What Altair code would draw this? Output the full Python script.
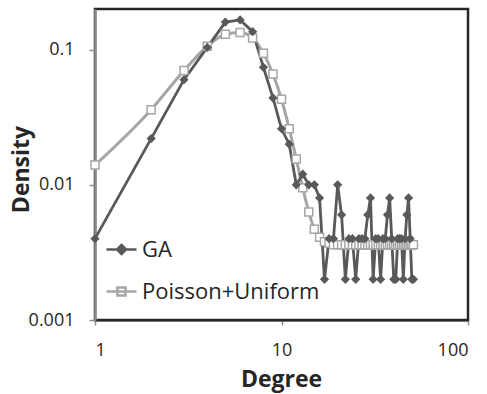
import altair as alt
import pandas as pd

# Degree distribution: GA sample vs. fitted Poisson+Uniform mixture
degree = list(range(1, 52))

ga_density = [
    0.004, 0.022, 0.060, 0.104, 0.160, 0.166, 0.136, 0.074, 0.044, 0.026,
    0.020, 0.010, 0.012, 0.010, 0.010, 0.008, 0.002, 0.004, 0.004, 0.010,
    0.006, 0.002, 0.004, 0.004, 0.002, 0.004, 0.004, 0.004, 0.006, 0.008,
    0.002, 0.004, 0.004, 0.002, 0.004, 0.004, 0.006, 0.008, 0.004, 0.002,
    0.002, 0.004, 0.004, 0.004, 0.002, 0.004, 0.006, 0.008, 0.004, 0.002,
    0.002,
]

pu_density = [
    0.0140, 0.0360, 0.0700, 0.1060, 0.1300, 0.1340, 0.1220, 0.0940, 0.0660, 0.0430,
    0.0260, 0.0155, 0.0095, 0.0063, 0.0047, 0.0041, 0.0038, 0.0037, 0.0036, 0.0036,
    0.0036, 0.0036, 0.0036, 0.0036, 0.0036, 0.0036, 0.0036, 0.0036, 0.0036, 0.0036,
    0.0036, 0.0036, 0.0036, 0.0036, 0.0036, 0.0036, 0.0036, 0.0036, 0.0036, 0.0036,
    0.0036, 0.0036, 0.0036, 0.0036, 0.0036, 0.0036, 0.0036, 0.0036, 0.0036, 0.0036,
    0.0036,
]

series_names = ["GA", "Poisson+Uniform"]
x_ticks = [1, 10, 100]
y_ticks = [0.001, 0.01, 0.1]

df = pd.concat([
    pd.DataFrame({"Degree": degree, "Density": ga_density, "series": series_names[0]}),
    pd.DataFrame({"Degree": degree, "Density": pu_density, "series": series_names[1]}),
], ignore_index=True)

FONT = "Open Sans"
TEXT = "#262626"
DARK = "#595959"
LIGHT = "#a6a6a6"
AXIS_GRAY = "#8c8c8c"

x_enc = alt.X(
    "Degree:Q",
    scale=alt.Scale(type="log", domain=[1, 100], nice=False),
    axis=alt.Axis(
        values=x_ticks, format="~g", grid=False, title="Degree",
        domainColor="#262626", domainWidth=2,
        tickColor=AXIS_GRAY, tickSize=5, tickWidth=1.5,
        labelFont=FONT, labelFontSize=18, labelColor=TEXT,
        labelBaseline="alphabetic", labelPadding=30,
        titleFont=FONT, titleFontSize=23, titleFontWeight="bold", titleColor=TEXT,
        titleBaseline="alphabetic", titleX=186, titleY=66,
    ),
)
y_enc = alt.Y(
    "Density:Q",
    scale=alt.Scale(type="log", domain=[0.001, 0.2], nice=False),
    axis=alt.Axis(
        values=y_ticks, format="~g", grid=False, title="Density",
        domainColor=AXIS_GRAY, domainWidth=2.5,
        tickColor=AXIS_GRAY, tickSize=6, tickWidth=1.5,
        labelFont=FONT, labelFontSize=18, labelColor=TEXT, labelPadding=15,
        titleFont=FONT, titleFontSize=23, titleFontWeight="bold", titleColor=TEXT,
        titleBaseline="alphabetic", titleX=-67, titleY=160,
    ),
)

base = alt.Chart(df).encode(x=x_enc, y=y_enc)
ga = base.transform_filter(alt.datum.series == series_names[0])
pu = base.transform_filter(alt.datum.series == series_names[1])

pu_line = pu.mark_line(color=LIGHT, strokeWidth=3, interpolate="monotone")
pu_pts = pu.mark_point(shape="square", size=64, filled=True, fill="white",
                       stroke=LIGHT, strokeWidth=1.5, opacity=1)
ga_line = ga.mark_line(color=DARK, strokeWidth=2.8)
ga_pts = ga.mark_point(shape="diamond", size=85, filled=True, color=DARK, opacity=1)

# legend key: line stub with the series marker on it
ga_key = "M-1,0H1M0,-0.3L0.3,0L0,0.3L-0.3,0Z"
pu_key = "M-1,0H1M-0.27,-0.27H0.27V0.27H-0.27Z"
legend = alt.Legend(
    title=None, orient="none", legendX=10, legendY=224, padding=0,
    symbolSize=900, symbolStrokeWidth=2.5, symbolOpacity=1,
    labelFont=FONT, labelFontSize=22, labelColor=TEXT, labelOffset=4,
    labelLimit=400, rowPadding=14,
)
key = base.mark_point(opacity=0, filled=True).encode(
    shape=alt.Shape("series:N", scale=alt.Scale(domain=series_names, range=[ga_key, pu_key]), legend=legend),
    stroke=alt.Stroke("series:N", scale=alt.Scale(domain=series_names, range=[DARK, LIGHT]), legend=legend),
    fill=alt.Fill("series:N", scale=alt.Scale(domain=series_names, range=[DARK, "white"]), legend=legend),
)

chart = (
    alt.layer(key, pu_line, ga_line, pu_pts, ga_pts)
    .properties(
        width=373, height=311,
        background="white",
        autosize=alt.AutoSizeParams(type="none"),
        padding={"left": 95, "top": 9, "right": 19, "bottom": 74},
    )
    .configure_view(stroke="#262626", strokeWidth=2.5)
)

chart.save("out.html", embed_options={"renderer": "svg", "actions": False})
